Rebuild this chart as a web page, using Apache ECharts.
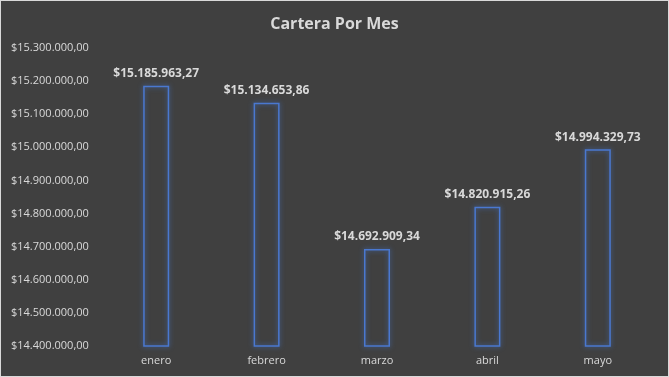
<!DOCTYPE html>
<html>
<head>
<meta charset="utf-8">
<script src="https://cdn.jsdelivr.net/npm/echarts@6/dist/echarts.min.js"></script>
<style>
  html, body { margin: 0; padding: 0; background: #404040; }
  #chart { width: 669px; height: 377px; box-sizing: border-box; border: 1px solid #d9d9d9; }
</style>
</head>
<body>
<div id="chart"></div>
<script>
const months = ["enero", "febrero", "marzo", "abril", "mayo"];
const cartera = [15185963.27, 15134653.86, 14692909.34, 14820915.26, 14994329.73];
const yMin = 14400000;
const yMax = 15300000;
const yStep = 100000;

// formato moneda es-CO: $15.185.963,27
const fmtMoney = (v) => {
  const parts = Number(v).toFixed(2).split(".");
  const ent = parts[0].replace(/\B(?=(\d{3})+(?!\d))/g, ".");
  return "$" + ent + "," + parts[1];
};

const chart = echarts.init(document.getElementById("chart"));
const font = "'Open Sans', 'Noto Sans', sans-serif";

chart.setOption({
  backgroundColor: "#404040",
  animation: false,
  title: {
    text: "Cartera Por Mes",
    left: "center",
    top: 10,
    textStyle: { color: "#d9d9d9", fontSize: 16, fontWeight: "bold", fontFamily: font }
  },
  grid: { left: 100, right: 15, top: 47, bottom: 30 },
  xAxis: {
    type: "category",
    data: months,
    axisLine: { show: false },
    axisTick: { show: false },
    axisLabel: { color: "#d9d9d9", fontSize: 11, fontFamily: font, margin: 9 }
  },
  yAxis: {
    type: "value",
    min: yMin,
    max: yMax,
    interval: yStep,
    splitLine: { show: false },
    axisLine: { show: false },
    axisTick: { show: false },
    axisLabel: {
      color: "#d9d9d9",
      fontSize: 11,
      fontFamily: font,
      align: "left",
      margin: 90,
      formatter: fmtMoney
    }
  },
  series: [
    {
      type: "bar",
      data: cartera,
      barWidth: 26,
      itemStyle: {
        color: "rgba(0,0,0,0)",
        borderColor: "#4a78d0",
        borderWidth: 1.5,
        shadowColor: "rgba(68,114,196,0.9)",
        shadowBlur: 5
      },
      label: {
        show: true,
        position: "top",
        distance: 6,
        color: "#d9d9d9",
        fontSize: 12,
        fontWeight: "bold",
        fontFamily: font,
        formatter: (p) => fmtMoney(p.value)
      }
    }
  ]
});
</script>
</body>
</html>
